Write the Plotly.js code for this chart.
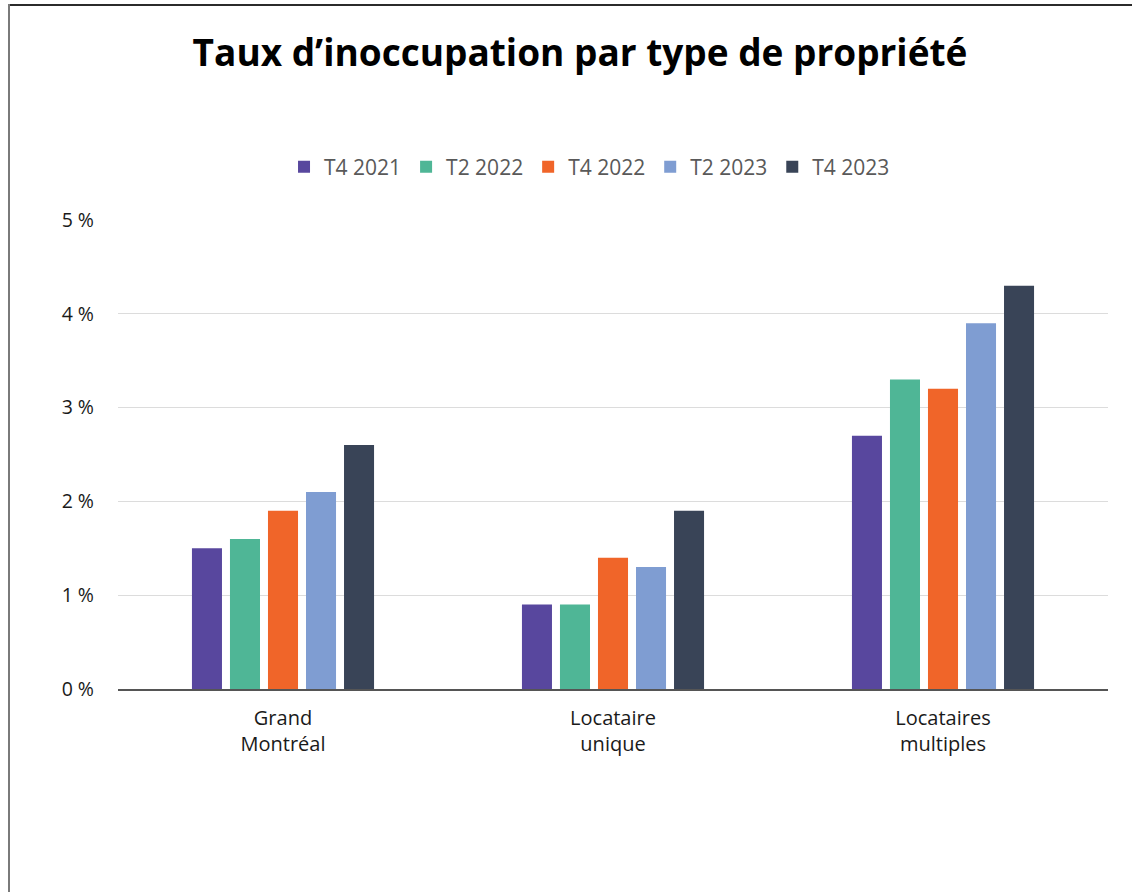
<!DOCTYPE html>
<html>
<head>
<meta charset="utf-8">
<script src="https://cdn.plot.ly/plotly-3.0.1.min.js"></script>
<style>
  html, body { margin: 0; background: #fff; overflow: hidden; }
  #plot { width: 1132px; height: 892px; }
</style>
</head>
<body>
<div id="plot"></div>
<script>
// categories and series
let categories = ["Grand<br>Montréal", "Locataire<br>unique", "Locataires<br>multiples"];
let seriesNames = ["T4 2021", "T2 2022", "T4 2022", "T2 2023", "T4 2023"];
let t42021 = [1.5, 0.9, 2.7];
let t22022 = [1.6, 0.9, 3.3];
let t42022 = [1.9, 1.4, 3.2];
let t22023 = [2.1, 1.3, 3.9];
let t42023 = [2.6, 1.9, 4.3];
let tickVals = [0, 1, 2, 3, 4, 5];
let tickText = ["0 %", "1 %", "2 %", "3 %", "4 %", "5 %"];

let colors = ["#58479e", "#4fb696", "#f06529", "#7f9dd2", "#394457"];
let allValues = [t42021, t22022, t42022, t22023, t42023];

// one trace per period
let data = [];
for (var i = 0; i < seriesNames.length; i++) {
    data.push({
        x: categories,
        y: allValues[i],
        name: seriesNames[i],
        type: "bar",
        marker: { color: colors[i] },
        hoverinfo: "y+name"
    });
}

// frame lines around the picture (top and left only), in paper units
let frameShapes = [
    { type: "line", xref: "paper", yref: "paper", x0: -0.1101, x1: 1.03, y0: 1.4584, y1: 1.4584,
      line: { color: "#2b2b2b", width: 2 } },
    { type: "line", xref: "paper", yref: "paper", x0: -0.1101, x1: -0.1101, y0: 1.4605, y1: -0.45,
      line: { color: "#7a7a7a", width: 2 } }
];

let layout = {
    width: 1132,
    height: 892,
    font: { family: "Open Sans, Noto Sans, sans-serif" },
    title: {
        text: "<b>Taux d’inoccupation par type de propriété</b>",
        font: { size: 37, color: "#000" },
        x: 0.5124,
        xanchor: "center",
        y: 0.94,
        yanchor: "middle"
    },
    barmode: "group",
    bargap: 0.424,
    bargroupgap: 0.21,
    margin: { l: 118, r: 24, t: 220, b: 203 },
    showlegend: true,
    legend: {
        orientation: "h",
        x: 0.1677,
        xanchor: "left",
        y: 1.113,
        yanchor: "middle",
        font: { size: 21, color: "#595959" },
        itemwidth: 30,
        traceorder: "normal"
    },
    xaxis: {
        tickfont: { size: 20, color: "#1a1a1a" },
        showline: true,
        linecolor: "#555",
        linewidth: 2,
        ticks: "",
        ticklabelstandoff: 10,
        fixedrange: true
    },
    yaxis: {
        range: [0, 5],
        tickvals: tickVals,
        ticktext: tickText,
        tickfont: { size: 19.5, color: "#1a1a1a" },
        gridcolor: "#dcdcdc",
        gridwidth: 1,
        zeroline: false,
        ticks: "",
        ticklabelstandoff: 23,
        fixedrange: true
    },
    shapes: frameShapes,
    plot_bgcolor: "#fff",
    paper_bgcolor: "#fff"
};

Plotly.newPlot("plot", data, layout, { displayModeBar: false });
</script>
</body>
</html>
